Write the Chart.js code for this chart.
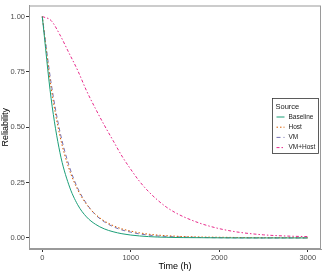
<!DOCTYPE html>
<html lang="en">
<head>
    <meta charset="UTF-8">
    <title>Reliability over time</title>
    <script src="https://cdn.jsdelivr.net/npm/chart.js"></script>
    <style>
        body {
            margin: 0;
            background: #FFFFFF;
        }
        .chart-box {
            position: relative;
            width: 333px;
            height: 272px;
        }
    </style>
</head>
<body>
    <div class="chart-box">
        <canvas id="relChart" width="333" height="272"></canvas>
    </div>

    <script>
        // time points (h)
        const hours = [0, 100, 200, 300, 400, 500, 600, 700, 800, 900, 1000, 1100, 1200,
                       1300, 1400, 1500, 1600, 1800, 2000, 2200, 2500, 2800, 3000];

        const baseline = [1, 0.63, 0.385, 0.24, 0.15, 0.095, 0.062, 0.041, 0.028, 0.019, 0.013, 0.009, 0.006,
                          0.004, 0.003, 0.002, 0.0015, 0.001, 0.0005, 0, 0, 0, 0];
        const host = [1, 0.68, 0.46, 0.315, 0.218, 0.152, 0.107, 0.077, 0.056, 0.041, 0.031, 0.023, 0.017,
                      0.013, 0.01, 0.008, 0.006, 0.004, 0.003, 0.002, 0.001, 0.001, 0.0005];
        const vm = [1, 0.70, 0.48, 0.33, 0.225, 0.155, 0.105, 0.073, 0.051, 0.036, 0.026, 0.018, 0.013,
                    0.009, 0.007, 0.005, 0.004, 0.002, 0.001, 0.0005, 0, 0, 0];
        const vmHost = [1, 0.982, 0.917, 0.837, 0.757, 0.665, 0.585, 0.51, 0.44, 0.37, 0.31, 0.255, 0.21,
                        0.172, 0.14, 0.115, 0.095, 0.064, 0.042, 0.027, 0.014, 0.008, 0.006];

        const seriesNames = ['Baseline', 'Host', 'VM', 'VM+Host'];
        const xTicks = [0, 1000, 2000, 3000];
        const yTicks = [0, 0.25, 0.5, 0.75, 1];

        const colors = ['#1B9E77', '#D95F02', '#7570B3', '#E7298A'];
        const dashes = [[], [1.5, 2], [4, 3], [3, 2, 1.5, 2]];
        const allSeries = [baseline, host, vm, vmHost];

        const toPoints = vals => vals.map((v, i) => ({ x: hours[i], y: v }));
        const font = '"Liberation Sans", Arial, sans-serif';

        // ggplot-style legend box inside the panel
        const sourceLegend = {
            id: 'sourceLegend',
            afterDraw(chart) {
                const ctx = chart.ctx;
                const area = chart.chartArea;
                // panel border on all sides
                ctx.save();
                ctx.strokeStyle = '#9A9A9A';
                ctx.lineWidth = 1;
                ctx.strokeRect(area.left + 0.5, area.top + 0.5, area.right - area.left - 1, area.bottom - area.top - 1);

                const bx = 272.5, by = 98.5, bw = 46, bh = 55;
                ctx.fillStyle = '#FFFFFF';
                ctx.fillRect(bx, by, bw, bh);
                ctx.strokeStyle = '#333333';
                ctx.lineWidth = 0.8;
                ctx.strokeRect(bx, by, bw, bh);

                ctx.fillStyle = '#1A1A1A';
                ctx.font = '7.5px ' + font;
                ctx.textBaseline = 'middle';
                ctx.fillText('Source', bx + 3, by + 8);

                ctx.font = '6.5px ' + font;
                seriesNames.forEach((name, i) => {
                    const yy = by + 18.5 + i * 10.2;
                    ctx.strokeStyle = colors[i];
                    ctx.lineWidth = 1;
                    ctx.setLineDash(dashes[i]);
                    ctx.beginPath();
                    ctx.moveTo(bx + 4, yy);
                    ctx.lineTo(bx + 12, yy);
                    ctx.stroke();
                    ctx.setLineDash([]);
                    ctx.fillStyle = '#1A1A1A';
                    ctx.fillText(name, bx + 16, yy);
                });
                ctx.restore();
            }
        };

        const ctx = document.getElementById('relChart').getContext('2d');
        new Chart(ctx, {
            type: 'line',
            data: {
                datasets: allSeries.map((vals, i) => ({
                    label: seriesNames[i],
                    data: toPoints(vals),
                    borderColor: colors[i],
                    borderWidth: 1,
                    borderDash: dashes[i],
                    pointRadius: 0,
                    fill: false,
                    cubicInterpolationMode: 'monotone'
                }))
            },
            options: {
                responsive: false,
                animation: false,
                layout: { padding: { top: 3, right: 12, left: 0, bottom: 0 } },
                plugins: {
                    legend: { display: false },
                    tooltip: { enabled: false }
                },
                scales: {
                    x: {
                        type: 'linear',
                        min: -150,
                        max: 3150,
                        afterBuildTicks: scale => { scale.ticks = xTicks.map(v => ({ value: v })); },
                        afterFit: scale => { scale.height = 23; },
                        grid: { drawOnChartArea: false, drawTicks: true, tickLength: 3, color: '#333333' },
                        border: { color: '#9A9A9A' },
                        ticks: {
                            color: '#4D4D4D',
                            padding: 1,
                            maxRotation: 0,
                            callback: v => String(v),
                            font: { family: font, size: 7.5 }
                        },
                        title: {
                            display: true,
                            text: 'Time (h)',
                            color: '#000000',
                            padding: { top: 0, bottom: 0 },
                            font: { family: font, size: 9 }
                        }
                    },
                    y: {
                        min: -0.05,
                        max: 1.05,
                        afterBuildTicks: scale => { scale.ticks = yTicks.map(v => ({ value: v })); },
                        afterFit: scale => { scale.width = 29; },
                        grid: { drawOnChartArea: false, drawTicks: true, tickLength: 3, color: '#333333' },
                        border: { color: '#9A9A9A' },
                        ticks: {
                            color: '#4D4D4D',
                            padding: 1,
                            callback: v => v.toFixed(2),
                            font: { family: font, size: 7.5 }
                        },
                        title: {
                            display: true,
                            text: 'Reliability',
                            color: '#000000',
                            padding: { top: 0, bottom: 1 },
                            font: { family: font, size: 9 }
                        }
                    }
                }
            },
            plugins: [sourceLegend]
        });
    </script>
</body>
</html>
